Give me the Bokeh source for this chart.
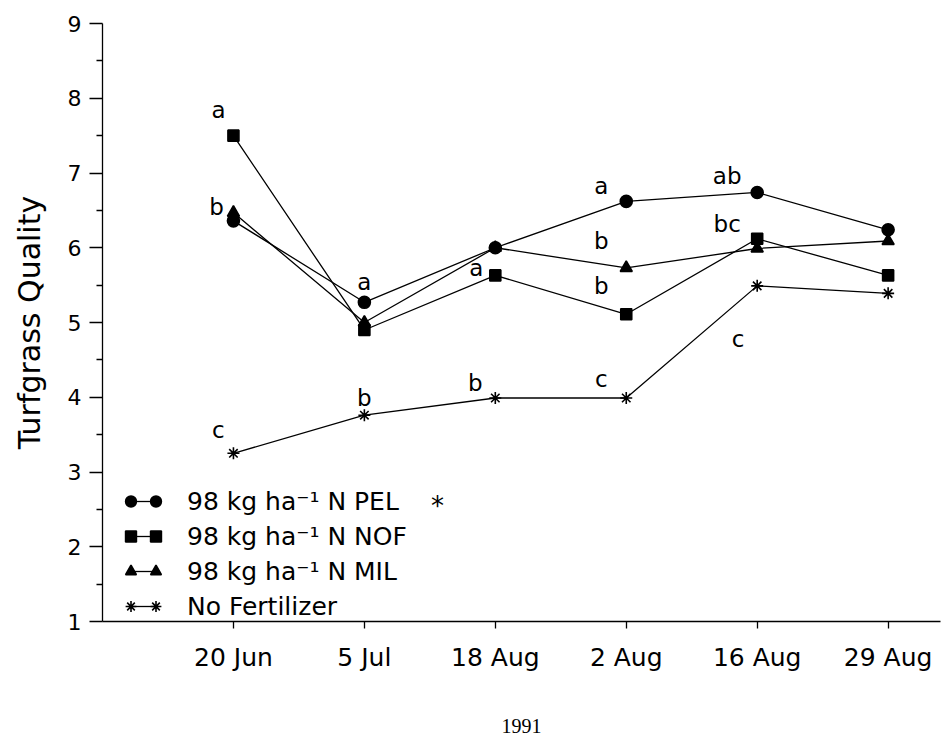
import numpy as np
from bokeh.plotting import figure
from bokeh.models import Range1d, FixedTicker, Legend, LegendItem, Label, ColumnDataSource
from bokeh.core.properties import value
from bokeh.embed import file_html
from bokeh.resources import INLINE

# ---- data ----
dates = ["20 Jun", "5 Jul", "18 Aug", "2 Aug", "16 Aug", "29 Aug"]
date_pos = [1, 2, 3, 4, 5, 6]
pel = [6.36, 5.27, 6.00, 6.62, 6.74, 6.24]
nof = [7.50, 4.90, 5.63, 5.11, 6.12, 5.63]
mil = [6.47, 5.00, 6.00, 5.73, 5.99, 6.09]
no_fert = [3.25, 3.76, 3.99, 3.99, 5.49, 5.39]

labels = ["98 kg ha\u207b\u00b9 N PEL", "98 kg ha\u207b\u00b9 N NOF",
          "98 kg ha\u207b\u00b9 N MIL", "No Fertilizer"]

# mean-separation letters: letter, date index, series it is attached to
sig_letter = ["a", "b", "c", "a", "b", "a", "b", "a", "b", "b", "c", "ab", "bc", "c"]
sig_date = [0, 0, 0, 1, 1, 2, 2, 3, 3, 3, 3, 4, 4, 4]
sig_series = ["NOF", "MIL", "NF", "PEL", "NF", "NOF", "NF", "PEL", "MIL", "NOF", "NF", "PEL", "NOF", "NF"]

# ---- layout (styling only) ----
sig_dx = [-15, -17, -15, 0, 0, -19, -20, -25, -25, -25, -25, -30, -30, -19]
sig_dy = [-26, -6, -23, -20, -17, -7, -15, -15, -27, -28, -19, -16, -15, 53]

FONT = "DejaVu Sans"

p = figure(width=950, height=739, output_backend="svg", toolbar_location=None,
           x_range=Range1d(0, 6.4), y_range=Range1d(1, 9),
           min_border_left=102, min_border_right=10, min_border_top=23,
           min_border_bottom=118)
p.outline_line_color = None
p.xgrid.visible = False
p.ygrid.visible = False
p.background_fill_color = "white"
p.border_fill_color = "white"

series = {"PEL": pel, "NOF": nof, "MIL": mil, "NF": no_fert}
markers = {"PEL": "circle", "NOF": "square", "MIL": "triangle", "NF": "asterisk"}
msize = {"PEL": 12, "NOF": 11, "MIL": 12, "NF": 12}
order = ["PEL", "NOF", "MIL", "NF"]

line_items, mark_items_l, mark_items_r = [], [], []
for key, lab in zip(order, labels):
    src = ColumnDataSource(dict(x=date_pos, y=series[key]))
    ln = p.line("x", "y", source=src, line_color="black", line_width=1.3)
    sc = p.scatter("x", "y", source=src, marker=markers[key], size=msize[key],
                   fill_color="black", line_color="black", line_width=1.6)
    line_items.append(LegendItem(label=lab, renderers=[ln]))
    mark_items_l.append(LegendItem(label="", renderers=[sc]))
    mark_items_r.append(LegendItem(label="", renderers=[sc]))

# significance letters positioned at their series' point
lx = [date_pos[d] for d in sig_date]
ly = [series[s][d] for s, d in zip(sig_series, sig_date)]
lsrc = ColumnDataSource(dict(x=lx, y=ly, t=sig_letter, dx=sig_dx, dy=sig_dy))
p.text("x", "y", text="t", source=lsrc, x_offset="dx", y_offset="dy",
       text_font=value(FONT), text_font_size="23px", text_color="black",
       text_align="center", text_baseline="middle")

common = dict(padding=0, margin=0, spacing=5, label_height=30, glyph_height=30,
              background_fill_alpha=0, border_line_color=None,
              label_text_font=FONT, label_text_font_size="25px",
              label_text_color="black")
legend = Legend(items=line_items, location=(27, 0), glyph_width=27,
                label_standoff=31, **common)
legend_l = Legend(items=mark_items_l, location=(15, 0), glyph_width=27,
                  label_standoff=0, **common)
legend_r = Legend(items=mark_items_r, location=(40, 0), glyph_width=27,
                  label_standoff=0, **common)
p.add_layout(legend, "center")
p.add_layout(legend_l, "center")
p.add_layout(legend_r, "center")

p.add_layout(Label(x=335, y=116, x_units="screen", y_units="screen", text="*",
                   text_font=FONT, text_font_size="26px", text_color="black",
                   text_align="center", text_baseline="middle"))

# axes
p.xaxis.ticker = FixedTicker(ticks=date_pos)
p.xaxis.major_label_overrides = {i: d for i, d in zip(date_pos, dates)}
p.xaxis.major_tick_out = 7
p.xaxis.major_tick_in = 0
p.xaxis.minor_tick_out = 0
p.xaxis.major_label_standoff = 14
p.xaxis.major_label_text_font = FONT
p.xaxis.major_label_text_font_size = "25px"
p.xaxis.major_label_text_color = "black"
p.xaxis.axis_label = "1991"
p.xaxis.axis_label_text_font = "Liberation Serif"
p.xaxis.axis_label_text_font_style = "normal"
p.xaxis.axis_label_text_font_size = "20px"
p.xaxis.axis_label_standoff = 44
p.xaxis.axis_line_width = 1.3
p.xaxis.major_tick_line_width = 1.3

p.yaxis.ticker = FixedTicker(ticks=list(range(1, 10)),
                             minor_ticks=list(np.arange(1.5, 9, 1.0)))
p.yaxis.major_tick_out = 13
p.yaxis.major_tick_in = 0
p.yaxis.minor_tick_out = 6
p.yaxis.minor_tick_in = 0
p.yaxis.major_label_standoff = 8
p.yaxis.major_label_text_font = FONT
p.yaxis.major_label_text_font_size = "22px"
p.yaxis.major_label_text_color = "black"
p.yaxis.axis_label = "Turfgrass Quality"
p.yaxis.axis_label_text_font = FONT
p.yaxis.axis_label_text_font_style = "normal"
p.yaxis.axis_label_text_font_size = "30px"
p.yaxis.axis_label_standoff = 18
p.yaxis.axis_line_width = 1.3
p.yaxis.major_tick_line_width = 1.3
p.yaxis.minor_tick_line_width = 1.3

for ax in (p.xaxis, p.yaxis):
    ax.axis_line_color = "black"
    ax.major_tick_line_color = "black"
    ax.minor_tick_line_color = "black"
    ax.axis_label_text_color = "black"

open("out.html", "w").write(file_html(p, INLINE))
